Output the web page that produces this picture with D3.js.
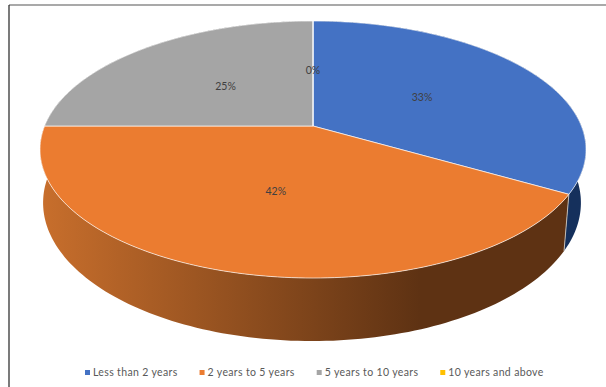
<!DOCTYPE html>
<html>
<head>
<meta charset="utf-8">
<script src="https://cdn.jsdelivr.net/npm/d3@7"></script>
<style>
html,body{margin:0;padding:0;background:#fff;overflow:hidden}
svg{display:block}
text{font-family:Lato,"Open Sans",sans-serif}
</style>
</head>
<body>
<svg id="chart" width="606" height="387"></svg>
<script>
const categories = ["Less than 2 years", "2 years to 5 years", "5 years to 10 years", "10 years and above"];
const shares = [33.33, 41.67, 25, 0];
const topColors = ["#4472C4", "#EB7C30", "#A5A5A5", "#FFC000"];
const wallStops = [
  ["#1B3768", "#15305C"],
  ["#C76E2C", "#5E3213"],
  ["#636363", "#636363"],
  ["#997300", "#997300"]
];

const W = 606, H = 387;
const svg = d3.select("#chart").attr("viewBox", [0, 0, W, H]);

// tilted disc: the unit circle seen in perspective, its centre at (cx, cy)
const cx = 313, cy = 126, rX = 268.4, rY = 124.2, tilt = 0.183;
const depth = 51.5, bottomShrink = 0.985, bottomShift = -1;
const project = (a, r = 1) => {
  const x = Math.sin(a) * r, y = -Math.cos(a) * r, w = 1 - tilt * y;
  return [cx + rX * x / w, cy + rY * y / w];
};
const projectBottom = a => {
  const [x, y] = project(a);
  const w = 1 + tilt * Math.cos(a);
  return [cx + bottomShift + (x - cx) * bottomShrink, y + depth / w];
};

const arcs = d3.pie().sort(null).value(d => d)(shares);
const line = d3.line();
const sweep = (a0, a1) => d3.range(0, 121).map(i => a0 + (a1 - a0) * i / 120);

// frame
svg.append("line").attr("x1", 9).attr("y1", 5).attr("x2", W).attr("y2", 5)
  .attr("stroke", "#555").attr("stroke-width", 1.2);
svg.append("line").attr("x1", 9).attr("y1", 5).attr("x2", 9).attr("y2", H)
  .attr("stroke", "#222").attr("stroke-width", 1.2);

// wall gradients
const defs = svg.append("defs");
wallStops.forEach((s, i) => {
  const g = defs.append("linearGradient").attr("id", "wall" + i)
    .attr("gradientUnits", "userSpaceOnUse")
    .attr("x1", 44).attr("x2", 420).attr("y1", 0).attr("y2", 0);
  g.append("stop").attr("offset", 0).attr("stop-color", s[0]);
  g.append("stop").attr("offset", 1).attr("stop-color", s[1]);
});

// outer walls
svg.append("g").selectAll("path").data(arcs).join("path")
  .attr("d", d => {
    const angles = sweep(d.startAngle, d.endAngle);
    return line([...angles.map(a => project(a)), ...angles.reverse().map(projectBottom)]) + "Z";
  })
  .attr("fill", (d, i) => `url(#wall${i})`);

// light edge where the walls of two front slices meet
svg.append("g").selectAll("line").data(arcs.slice(0, 1)).join("line")
  .attr("x1", d => project(d.endAngle)[0]).attr("y1", d => project(d.endAngle)[1])
  .attr("x2", d => projectBottom(d.endAngle)[0]).attr("y2", d => projectBottom(d.endAngle)[1])
  .attr("stroke", "#c9c4bd").attr("stroke-width", 0.9);

// top faces
svg.append("g").selectAll("path").data(arcs).join("path")
  .attr("d", d => line([[cx, cy], ...sweep(d.startAngle, d.endAngle).map(a => project(a))]) + "Z")
  .attr("fill", (d, i) => topColors[i])
  .attr("stroke", "#fff").attr("stroke-opacity", 0.65).attr("stroke-width", 1)
  .attr("stroke-linejoin", "round");

// percent labels
svg.append("g").selectAll("text").data(arcs).join("text")
  .attr("transform", d => `translate(${project((d.startAngle + d.endAngle) / 2, 0.49)})`)
  .attr("text-anchor", "middle").attr("dy", "0.4em")
  .attr("font-size", 10.5).attr("fill", "#404040")
  .text(d => d3.format(".0f")(d.data) + "%");

// legend
const legend = svg.append("g");
let lx = 85;
categories.forEach((c, i) => {
  legend.append("rect").attr("x", lx).attr("y", 370).attr("width", 5).attr("height", 5).attr("fill", topColors[i]);
  const t = legend.append("text").attr("x", lx + 8).attr("y", 376)
    .attr("font-size", 10.5).attr("letter-spacing", 0.35).attr("fill", "#595959").text(c);
  lx += 8 + t.node().getComputedTextLength() + 22;
});
</script>
</body>
</html>
